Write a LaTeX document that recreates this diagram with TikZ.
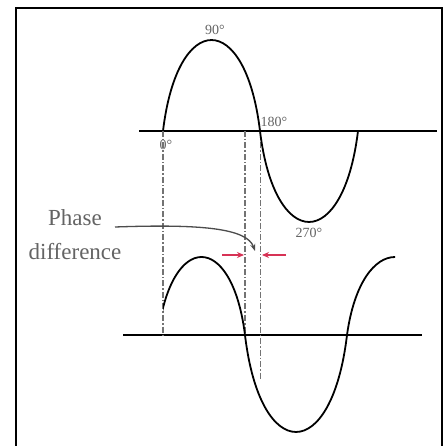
\documentclass[tikz,border=0pt]{standalone}
\usepackage{fontspec}
\setmainfont{Liberation Serif}
\usetikzlibrary{arrows.meta}
\definecolor{txtgray}{RGB}{100,100,100}
\definecolor{arrred}{RGB}{215,50,85}
\tikzset{
  wave/.style={line width=1.8pt, black, line join=round},
  axisline/.style={line width=1.6pt, black},
  guide/.style={line width=1.1pt, black!55, dash pattern=on 6pt off 2pt on 1.5pt off 2pt},
  deglabel/.style={text=txtgray, font=\fontsize{14}{16}\selectfont, inner sep=0pt},
  phasearrow/.style={line width=1.3pt, arrred, -{Stealth[length=7pt,width=6pt]}},
}
\begin{document}
\begin{tikzpicture}[x=1pt,y=-1pt]
\useasboundingbox (0,0) rectangle (447,446);
\fill[white] (0,0) rectangle (447,446);
% frame
\draw[line width=1.8pt] (16,452) -- (16,8) -- (442,8) -- (442,452);
% axes
\draw[axisline] (139,131) -- (437,131);
\draw[axisline] (123,335) -- (422,335);
% guides
\coordinate (g0t) at (163,131);
\coordinate (g0b) at (163,335);
\coordinate (g1t) at (245,131);
\coordinate (g1b) at (245,338);
\coordinate (g2t) at (260.5,131);
\coordinate (g2b) at (260.5,380);
\draw[guide] (g0t) -- (g0b);
\draw[guide] (g1t) -- (g1b);
\draw[guide] (g2t) -- (g2b);
% top wave
\draw[wave] (163,131) .. controls (177.55,9.7) and (245.45,9.7) .. (260,131)
                      .. controls (274.7,252.3) and (343.3,252.3) .. (358,131);
% bottom wave
\begin{scope}
\clip (163,0) rectangle (395,446);
\draw[wave] (158,335) .. controls (171.05,231) and (231.95,231) .. (245,335)
                      .. controls (260.3,464.3) and (331.7,464.3) .. (347,335)
                      .. controls (361.4,231) and (428.6,231) .. (443,335);
\end{scope}
% degree labels
\node[deglabel] (l90) at (215,30) {90°};
\node[deglabel] (l180) at (274,122) {180°};
\node[deglabel] (l0) at (166,145) {0°};
\node[deglabel] (l270) at (309,233) {270°};
% phase text
\node[text=txtgray, font=\fontsize{23}{34}\selectfont, align=center, inner sep=0pt] (ph) at (75,235) {Phase\\difference};
% leader
\coordinate (ls) at (115,227);
\coordinate (le) at (255,251);
\draw[line width=1.3pt, black!70, -{Stealth[length=7pt,width=5pt]}] (ls) .. controls (200,224) and (247,228) .. (le);
% red arrows
\coordinate (a1s) at (222,255);
\coordinate (a1e) at (244,255);
\coordinate (a2s) at (286,255);
\coordinate (a2e) at (262,255);
\draw[phasearrow] (a1s) -- (a1e);
\draw[phasearrow] (a2s) -- (a2e);
\end{tikzpicture}
\end{document}
